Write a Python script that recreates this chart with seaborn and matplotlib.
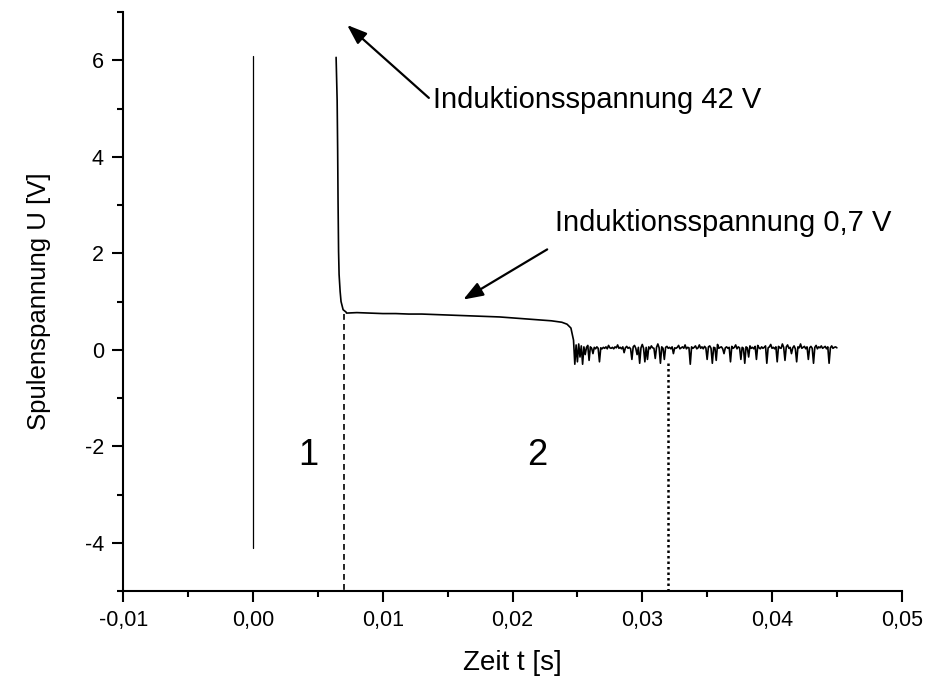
import numpy as np
import pandas as pd
import matplotlib
matplotlib.use("Agg")
import matplotlib.pyplot as plt
import seaborn as sns
from matplotlib.ticker import FuncFormatter, MultipleLocator

# trace 1: switch-on spike at t = 0 (clipped by the scope)
t_spike = [0.0, 0.0]
u_spike = [-4.1, 6.08]

# trace 2: induced voltage after switch-off, decay + plateau
t_decay = [0.0064, 0.00648, 0.00652, 0.00655, 0.00659, 0.00663, 0.00671,
           0.00678, 0.00694, 0.00717]
u_decay = [6.06, 5.17, 4.13, 3.08, 2.04, 1.56, 1.21, 1.00, 0.83, 0.78]

t_plateau = [0.0072, 0.0080, 0.0090, 0.0100, 0.0110, 0.0120, 0.0130, 0.0140,
             0.0150, 0.0160, 0.0170, 0.0180, 0.0190, 0.0200, 0.0210, 0.0220,
             0.0230, 0.0238, 0.0242, 0.0245, 0.0247, 0.0248, 0.0249]
u_plateau = [0.76, 0.77, 0.76, 0.75, 0.75, 0.74, 0.74, 0.73, 0.72, 0.71,
             0.70, 0.69, 0.68, 0.66, 0.64, 0.62, 0.60, 0.57, 0.53, 0.45,
             0.20, -0.30, 0.10]

# noise after the field has collapsed, sampled every 0.1 ms
t_noise_start, t_noise_step = 0.0250, 0.0001
u_noise = [
    -0.25, 0.12, -0.15, 0.08, -0.30, 0.06, -0.10, 0.05, 0.09, -0.22,
    0.06, 0.03, -0.08, 0.05, 0.02, 0.06, 0.03, -0.25, 0.04, 0.02,
    0.05, 0.03, 0.06, 0.02, 0.09, 0.04, 0.03, 0.05, 0.02, 0.06,
    0.04, 0.10, 0.03, 0.05, 0.02, 0.06, -0.06, 0.04, 0.07, 0.03,
    0.05, 0.02, -0.20, 0.06, 0.09, 0.03, -0.10, 0.05, -0.28, 0.04,
    0.11, 0.03, -0.25, 0.05, -0.20, 0.06, 0.02, 0.08, 0.04, 0.03,
    -0.18, 0.05, 0.12, 0.04, -0.28, 0.06, 0.03, -0.20, 0.05, 0.07,
    0.03, 0.05, 0.02, 0.06, -0.08, 0.04, 0.03, 0.05, 0.09, 0.02,
    0.04, 0.06, 0.03, 0.10, 0.02, 0.05, 0.04, -0.30, 0.06, 0.03,
    0.05, 0.08, 0.02, 0.04, 0.10, 0.03, 0.06, 0.02, 0.07, 0.04,
    -0.20, 0.06, 0.08, 0.03, -0.28, 0.05, 0.04, -0.22, 0.11, 0.03,
    0.05, 0.06, 0.02, -0.08, 0.04, 0.06, 0.03, 0.05, -0.25, 0.07,
    0.03, 0.05, 0.10, 0.02, 0.06, 0.04, -0.20, 0.05, 0.03, -0.28,
    0.06, 0.04, -0.15, 0.08, 0.03, 0.05, 0.02, 0.07, -0.20, 0.09,
    0.04, 0.02, 0.06, 0.03, 0.05, 0.08, -0.28, 0.04, 0.06, 0.11,
    0.03, 0.05, 0.02, 0.06, -0.25, 0.07, 0.04, 0.03, 0.12, 0.05,
    -0.22, 0.06, 0.10, 0.03, 0.05, -0.08, 0.04, 0.08, 0.02, -0.25,
    0.06, 0.04, 0.12, 0.03, 0.05, 0.07, 0.02, 0.06, -0.20, 0.04,
    0.07, 0.03, -0.28, 0.05, 0.09, 0.02, 0.06, 0.04, 0.08, 0.03,
    0.05, 0.07, 0.02, 0.06, -0.28, 0.04, 0.08, 0.03, 0.05, 0.06,
    0.04,
]
t_noise = list(t_noise_start + t_noise_step * np.arange(len(u_noise)))

# marker lines separating phase 1 / 2
t_dash, u_dash = [0.007, 0.007], [0.75, -5.0]
t_dot, u_dot = [0.032, 0.032], [-0.27, -5.0]

sns.set_theme(style="ticks")
plt.rcParams['font.family'] = ['Liberation Sans', 'DejaVu Sans']
plt.rcParams['axes.unicode_minus'] = False
plt.rcParams['text.color'] = 'black'
plt.rcParams['axes.labelcolor'] = 'black'

fig = plt.figure(figsize=(9.26, 6.79), dpi=100)
ax = fig.add_axes([0.1332, 0.1296, 0.8406, 0.8527])

trace2 = pd.DataFrame({
    't': t_decay + t_plateau + t_noise,
    'u': u_decay + u_plateau + u_noise,
})
sns.lineplot(x=t_spike, y=u_spike, color='black', lw=0.9, sort=False,
             estimator=None, ax=ax)
sns.lineplot(data=trace2, x='t', y='u', color='black', lw=1.2, sort=False,
             estimator=None, ax=ax)
sns.lineplot(x=t_dash, y=u_dash, color='black', lw=1.2, sort=False,
             estimator=None, ax=ax, linestyle=(0, (3.5, 2.5)))
sns.lineplot(x=t_dot, y=u_dot, color='black', lw=1.8, sort=False,
             estimator=None, ax=ax, linestyle=(0, (1, 1.2)))

ax.set_xlim(-0.01, 0.05)
ax.set_ylim(-5, 7)
ax.xaxis.set_major_locator(MultipleLocator(0.01))
ax.xaxis.set_minor_locator(MultipleLocator(0.005))
ax.yaxis.set_major_locator(MultipleLocator(2))
ax.yaxis.set_minor_locator(MultipleLocator(1))
ax.xaxis.set_major_formatter(FuncFormatter(lambda v, p: f"{v:.2f}".replace('.', ',').replace('-0,00', '0,00')))
ax.yaxis.set_major_formatter(FuncFormatter(lambda v, p: f"{v:.0f}"))

for s in ['top', 'right']:
    ax.spines[s].set_visible(False)
for s in ['left', 'bottom']:
    ax.spines[s].set_linewidth(1.5)
    ax.spines[s].set_color('black')
ax.tick_params(which='major', direction='out', length=8, width=1.5,
               labelsize=15.5, colors='black', pad=6)
ax.tick_params(which='minor', direction='out', length=4.3, width=1.5,
               colors='black')

ax.set_xlabel("Zeit t [s]", fontsize=20, labelpad=13)
ax.set_ylabel("Spulenspannung U [V]", fontsize=18.5, labelpad=24)

arrow_kw = dict(arrowstyle='-|>,head_length=0.6,head_width=0.22',
                color='black', lw=1.6, shrinkA=0, shrinkB=0, mutation_scale=20)
ax.annotate("", xy=(0.00725, 6.73), xytext=(0.01355, 5.22), arrowprops=arrow_kw)
ax.annotate("", xy=(0.0162, 1.04), xytext=(0.02267, 2.08), arrowprops=arrow_kw)
ax.text(0.01388, 5.17, "Induktionsspannung 42 V", fontsize=21,
        va='center', ha='left')
ax.text(0.02328, 2.62, "Induktionsspannung 0,7 V", fontsize=21,
        va='center', ha='left')

ax.text(0.00424, -2.19, "1", fontsize=26, ha='center', va='center')
ax.text(0.0219, -2.19, "2", fontsize=26, ha='center', va='center')

fig.savefig("out.png", dpi=100)
